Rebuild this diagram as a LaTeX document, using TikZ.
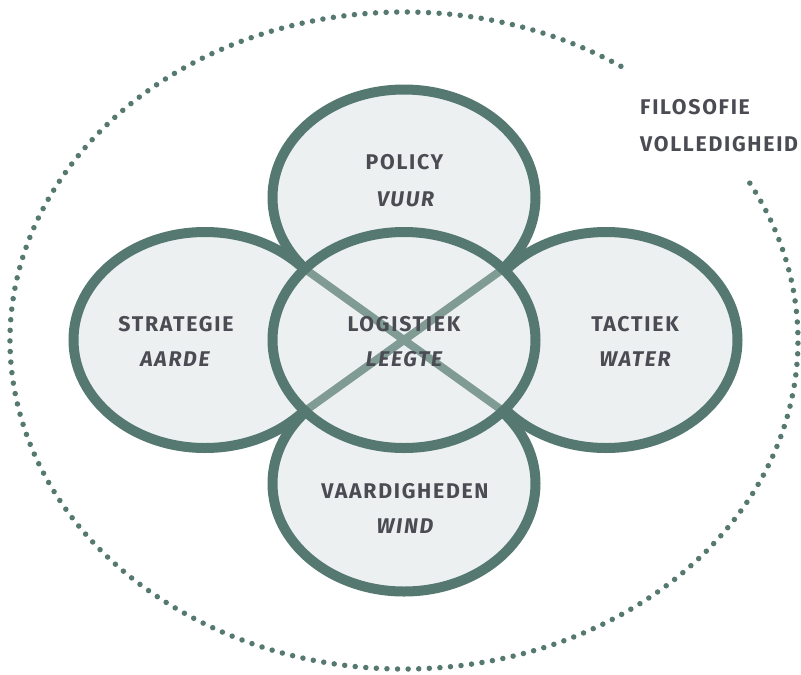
\documentclass[tikz,border=0pt]{standalone}
\usepackage{fontspec}
\setmainfont{Fira Sans}[LetterSpace=8]
\usetikzlibrary{shapes.geometric}
\definecolor{ring}{HTML}{557870}
\definecolor{crossc}{HTML}{809B94}
\definecolor{fillc}{HTML}{ECF0F0}
\definecolor{txt}{HTML}{4A4B53}
\begin{document}
\begin{tikzpicture}[x=1pt,y=-1pt,
  petal/.style={ellipse, draw=ring, fill=fillc, line width=10pt, minimum width=263pt, minimum height=216pt, inner sep=0pt},
  petalfill/.style={petal, draw=none},
  petalring/.style={petal, fill=none},
  lbl/.style={text=txt, font=\fontsize{21.3}{25}\selectfont\bfseries, inner sep=0pt},
  sublbl/.style={text=txt, font=\fontsize{21.3}{25}\selectfont\bfseries\itshape, inner sep=0pt},
  crossline/.style={draw=crossc, line width=8pt},
  dots/.style={draw=ring, line width=5.5pt, line cap=round, dash pattern=on 0pt off 10.6pt}]
\useasboundingbox (0,0) rectangle (801,675);
% outer dotted ellipse with gap
\draw[dots] ([shift={(404,340.5)}]-56.6:394 and 328.5) arc[start angle=-56.6, end angle=-389.2, x radius=394, y radius=328.5];
% petals
\node[petal] (top) at (404,197.5) {};
\node[petal] (left) at (205,340) {};
\node[petal] (right) at (606,340) {};
\node[petal] (bottom) at (404,483.5) {};
\node[petalfill] (mid) at (404,340) {};
% cross lines
\coordinate (tl) at (305,269);
\coordinate (tr) at (503,269);
\coordinate (bl) at (305,411);
\coordinate (br) at (503,411);
\draw[crossline] (tl) -- (br);
\draw[crossline] (tr) -- (bl);
\node[petalring] (midring) at (404,340) {};
% labels
\node[lbl] (policy) at (404.5,162.5) {POLICY};
\node[sublbl] (vuur) at (405.5,199.5) {VUUR};
\node[lbl] (strategie) at (176,324) {STRATEGIE};
\node[sublbl] (aarde) at (175,359) {AARDE};
\node[lbl] (logistiek) at (404,324) {LOGISTIEK};
\node[sublbl] (leegte) at (404,359) {LEEGTE};
\node[lbl] (tactiek) at (635,324) {TACTIEK};
\node[sublbl] (water) at (635,359) {WATER};
\node[lbl] (vaard) at (405,491) {VAARDIGHEDEN};
\node[sublbl] (wind) at (405,526) {WIND};
\node[lbl, anchor=west] (filo) at (640,107.5) {FILOSOFIE};
\node[lbl, anchor=west] (volle) at (640,144.5) {VOLLEDIGHEID};
\end{tikzpicture}
\end{document}
